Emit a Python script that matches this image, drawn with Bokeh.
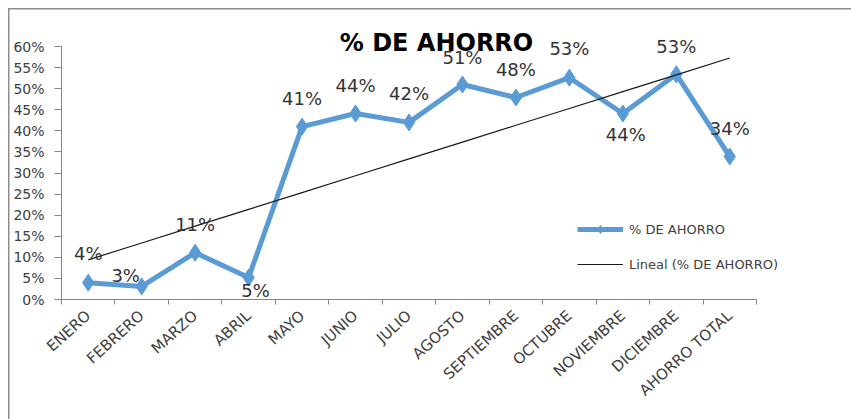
import math
import numpy as np
from bokeh.plotting import figure
from bokeh.core.properties import value
from bokeh.models import (Range1d, FixedTicker, NumeralTickFormatter, LabelSet, Label,
                          Legend, LegendItem, ColumnDataSource)
from bokeh.embed import file_html
from bokeh.resources import INLINE

# ---- data -------------------------------------------------------------
months = ["ENERO", "FEBRERO", "MARZO", "ABRIL", "MAYO", "JUNIO", "JULIO",
          "AGOSTO", "SEPTIEMBRE", "OCTUBRE", "NOVIEMBRE", "DICIEMBRE", "AHORRO TOTAL"]
ahorro = [0.040, 0.031, 0.111, 0.052, 0.410, 0.441, 0.420,
          0.510, 0.479, 0.526, 0.441, 0.534, 0.339]
y_ticks = [0.00, 0.05, 0.10, 0.15, 0.20, 0.25, 0.30, 0.35, 0.40, 0.45, 0.50, 0.55, 0.60]
title_text = "% DE AHORRO"
series_name = "% DE AHORRO"
trend_name = "Lineal (% DE AHORRO)"

# label placement (screen px offsets from each point)
label_dx = [0, -16, 0, 7, 0, 0, 0, 0, 0, 0, 3, 0, 0]
label_dy = [29, 11, 28, -13, 28, 28, 29, 27, 28, 29, -21, 28, 28]

# ---- layout (px) ------------------------------------------------------
W, H = 851, 419
LEFT, TOP, BOTTOM = 61, 8, 120        # frame borders
AXIS_W, AXIS_H = 695, 253             # length of drawn axes
Y_MAX = 0.6

# ---- derived ----------------------------------------------------------
n = len(months)
xs = [i + 0.5 for i in range(n)]
bounds = list(range(n + 1))
labels = [f"{round(v * 100)}%" for v in ahorro]
coef = np.polyfit(xs, ahorro, 1)
trend = list(np.polyval(coef, xs))

x_end = n * (W - LEFT) / AXIS_W
y_end = Y_MAX * (H - TOP - BOTTOM) / AXIS_H

src = ColumnDataSource(dict(x=xs, y=ahorro, label=labels, dx=label_dx, dy=label_dy))

BLUE = "#5B9BD5"
AXIS = "#868686"
TXT = "#404040"
FONT = "DejaVu Sans"

p = figure(width=W, height=H, x_range=Range1d(0, x_end), y_range=Range1d(0, y_end),
           output_backend="svg", toolbar_location=None,
           min_border_left=LEFT, min_border_right=0, min_border_top=TOP,
           min_border_bottom=BOTTOM)
p.styles = {
    "background": "linear-gradient(#8c8c8c, #8c8c8c) 7.5px 7.5px / 1.5px 100% no-repeat, "
                  "linear-gradient(#8c8c8c, #8c8c8c) 7.5px 7.5px / 100% 1.5px no-repeat, white"
}
p.xgrid.visible = False
p.ygrid.visible = False
p.outline_line_color = None
p.background_fill_color = None
p.border_fill_color = None

# y axis
p.yaxis.bounds = (0, Y_MAX)
p.yaxis.ticker = FixedTicker(ticks=y_ticks, minor_ticks=[])
p.yaxis.formatter = NumeralTickFormatter(format="0%")
p.yaxis.axis_line_color = AXIS
p.yaxis.major_tick_line_color = AXIS
p.yaxis.major_tick_out = 7
p.yaxis.major_tick_in = 0
p.yaxis.minor_tick_line_color = None
p.yaxis.major_label_text_font = FONT
p.yaxis.major_label_text_font_size = "14px"
p.yaxis.major_label_text_color = TXT
p.yaxis.major_label_standoff = 10

# x axis
p.xaxis.bounds = (0, n)
p.xaxis.ticker = FixedTicker(ticks=xs, minor_ticks=bounds)
p.xaxis.major_label_overrides = {x: m for x, m in zip(xs, months)}
p.xaxis.axis_line_color = AXIS
p.xaxis.major_tick_line_color = None
p.xaxis.major_tick_out = 0
p.xaxis.major_tick_in = 0
p.xaxis.minor_tick_line_color = AXIS
p.xaxis.minor_tick_out = 5
p.xaxis.minor_tick_in = 0
p.xaxis.major_label_orientation = math.radians(42)
p.xaxis.major_label_text_font = FONT
p.xaxis.major_label_text_font_size = "15px"
p.xaxis.major_label_text_color = TXT
p.xaxis.major_label_standoff = 9

# series
r_line = p.line("x", "y", source=src, line_width=5, color=BLUE)
r_pts = p.scatter("x", "y", source=src, marker="diamond", size=17, color=BLUE)
r_trend = p.line(xs, trend, line_width=1.2, color="#1a1a1a")

p.add_layout(LabelSet(x="x", y="y", text="label", source=src, x_offset="dx", y_offset="dy",
                      text_align="center", text_baseline="middle",
                      text_font=value(FONT), text_font_size="18px", text_color="#333333"))

p.add_layout(Label(x=375, y=257, x_units="screen", y_units="screen", text=title_text,
                   text_align="center", text_baseline="middle", text_font=FONT,
                   text_font_style="bold", text_font_size="24px", text_color="black"))

legend = Legend(items=[LegendItem(label=series_name, renderers=[r_line, r_pts]),
                       LegendItem(label=trend_name, renderers=[r_trend])],
                location=(516, 25), orientation="vertical",
                border_line_color=None, background_fill_alpha=0,
                padding=0, margin=0, spacing=15, glyph_width=46, glyph_height=20,
                label_height=20, label_standoff=6,
                label_text_font=FONT, label_text_font_size="13px", label_text_color=TXT)
p.add_layout(legend)

open("out.html", "w").write(file_html(p, INLINE))
